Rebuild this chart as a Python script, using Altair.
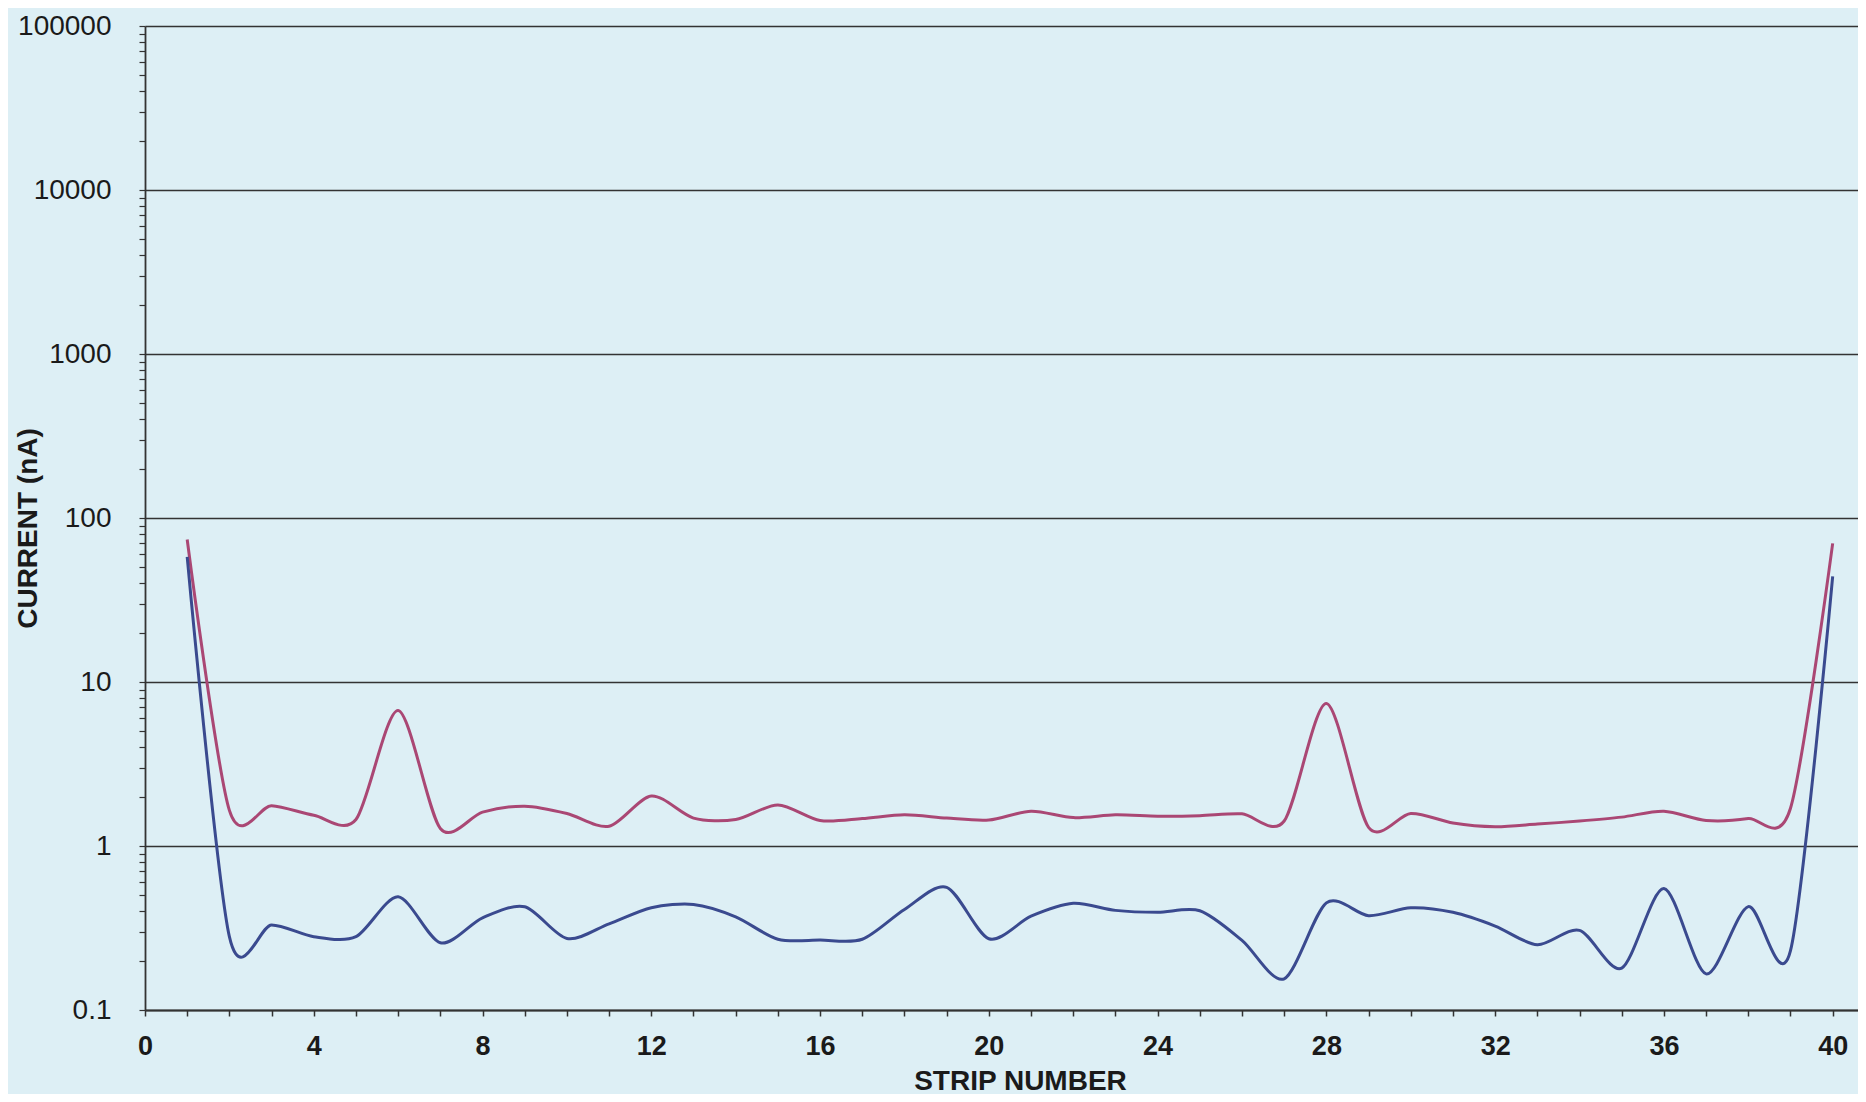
import altair as alt
import pandas as pd

# Strip numbers
strips = list(range(1, 41))

# Upper (red/magenta) curve, current in nA
current_upper = [74, 1.65, 1.76, 1.54, 1.45, 6.7, 1.28, 1.61, 1.75, 1.58,
                 1.32, 2.02, 1.48, 1.45, 1.78, 1.43, 1.47, 1.55, 1.48, 1.44,
                 1.63, 1.49, 1.55, 1.52, 1.53, 1.57, 1.42, 7.4, 1.30, 1.58,
                 1.38, 1.31, 1.36, 1.42, 1.50, 1.63, 1.43, 1.47, 1.70, 70]

# Lower (blue) curve, current in nA
current_lower = [58, 0.28, 0.33, 0.28, 0.28, 0.49, 0.257, 0.365, 0.426, 0.273,
                 0.335, 0.42, 0.44, 0.37, 0.27, 0.267, 0.27, 0.41, 0.56, 0.272,
                 0.373, 0.447, 0.405, 0.394, 0.403, 0.266, 0.155, 0.45, 0.376, 0.42,
                 0.394, 0.325, 0.25, 0.306, 0.18, 0.55, 0.166, 0.427, 0.23, 44]

series_names = ["upper", "lower"]
series_colors = ["#aa4774", "#3a4a8f"]

x_ticks = list(range(0, 41))
y_ticks = [float(f"{m}e{e}") for e in range(-1, 5) for m in range(1, 10)] + [100000.0]

df = pd.DataFrame({
    "strip": strips * 2,
    "current": current_upper + current_lower,
    "series": ["upper"] * len(strips) + ["lower"] * len(strips),
})

BG = "#ddeff5"
DARK = "#333333"
FONT = "Liberation Sans"

decade_test = "abs(log(datum.value)/LN10 - round(log(datum.value)/LN10)) < 1e-6"

chart = alt.Chart(df).mark_line(
    interpolate="cardinal", tension=0.15, strokeWidth=3
).encode(
    x=alt.X(
        "strip:Q",
        scale=alt.Scale(domain=[0, 40.6], nice=False, zero=False),
        axis=alt.Axis(
            values=x_ticks,
            labelExpr="datum.value % 4 == 0 ? datum.label : ''",
            title="STRIP NUMBER",
            grid=False,
            tickSize=6,
            tickColor=DARK,
            tickWidth=1.5,
            domainColor=DARK,
            domainWidth=1.8,
            labelFont=FONT,
            labelFontSize=27,
            labelFontWeight="bold",
            labelColor="#1a1a1a",
            labelPadding=17,
            labelFlush=False,
            titleFont=FONT,
            titleFontSize=28,
            titleFontWeight="bold",
            titleColor="#1a1a1a",
            titleX=875,
            titleY=79,
            titleAlign="center",
            titleBaseline="alphabetic",
        ),
    ),
    y=alt.Y(
        "current:Q",
        scale=alt.Scale(type="log", domain=[0.1, 100000], nice=False),
        axis=alt.Axis(
            values=y_ticks,
            format=".1~f",
            labelExpr=decade_test + " ? datum.label : ''",
            title="CURRENT (nA)",
            grid=True,
            gridColor=DARK,
            gridWidth=1.6,
            gridOpacity={"condition": {"test": decade_test, "value": 1}, "value": 0},
            tickSize=6,
            tickColor=DARK,
            tickWidth=1.2,
            domainColor=DARK,
            domainWidth=1.8,
            labelFont=FONT,
            labelFontSize=28,
            labelColor="#1a1a1a",
            labelPadding=28,
            labelFlush=False,
            titleFont=FONT,
            titleFontSize=28,
            titleFontWeight="bold",
            titleColor="#1a1a1a",
            titleX=-117,
            titleY=502,
            titleAlign="center",
            titleBaseline="middle",
            titleAngle=270,
        ),
    ),
    color=alt.Color(
        "series:N",
        scale=alt.Scale(domain=series_names, range=series_colors),
        legend=None,
    ),
).properties(
    width=1713,
    height=984,
    autosize=alt.AutoSizeParams(type="none"),
    padding={"left": 137, "top": 18, "right": 0, "bottom": 84},
    background=BG,
).configure_view(
    fill=BG,
    stroke=None,
)

chart.save("out.html", embed_options={"renderer": "svg", "actions": False})
